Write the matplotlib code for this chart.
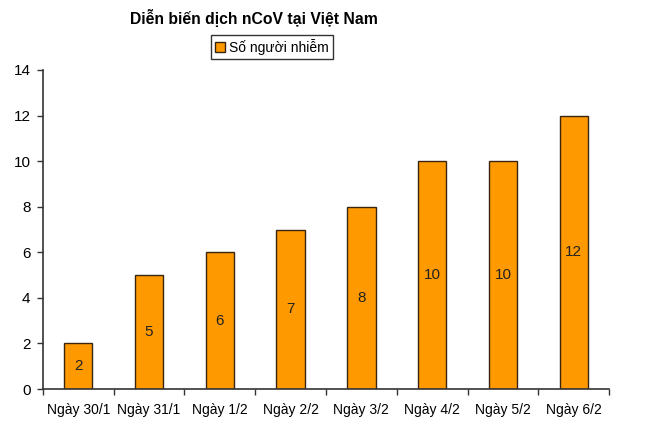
import matplotlib
matplotlib.use("Agg")
import matplotlib.pyplot as plt
import numpy as np

categories = ["Ngày 30/1", "Ngày 31/1", "Ngày 1/2", "Ngày 2/2", "Ngày 3/2", "Ngày 4/2", "Ngày 5/2", "Ngày 6/2"]
values = [2, 5, 6, 7, 8, 10, 10, 12]
title = "Diễn biến dịch nCoV tại Việt Nam"
series_name = "Số người nhiễm"
yticks = [0, 2, 4, 6, 8, 10, 12, 14]

plt.rcParams['font.family'] = ['Liberation Sans', 'DejaVu Sans']

fig = plt.figure(figsize=(6.6, 4.32), dpi=100)
ax = fig.add_axes([0.065, 0.0995, 0.858, 0.7385])

x = np.arange(len(categories))
bars = ax.bar(x, values, width=0.4, color="#FF9900", edgecolor="#3a2410", linewidth=1.0, label=series_name)
for xi, v in zip(x, values):
    ax.text(xi, v / 2, str(v), ha="center", va="center", fontsize=11, color="#222222")

ax.set_xlim(-0.5, len(categories) - 0.5)
ax.set_ylim(0, 14)
ax.set_yticks(yticks)
ax.set_xticks(x)
ax.set_xticklabels(categories, fontsize=10)
ax.set_xticks(np.arange(len(categories) + 1) - 0.5, minor=True)
ax.tick_params(axis="x", which="major", length=0, pad=10)
ax.tick_params(axis="x", which="minor", length=4, width=1, direction="out", color="#333333")
ax.tick_params(axis="y", length=4, width=1, direction="out", color="#333333", labelsize=11, pad=5)
for s in ["top", "right"]:
    ax.spines[s].set_visible(False)
for s in ["left", "bottom"]:
    ax.spines[s].set_color("#333333")
    ax.spines[s].set_linewidth(1.2)

fig.text(0.385, 0.958, title, ha="center", va="center", fontsize=11.3, fontweight="bold")
leg = fig.legend(handles=[bars], labels=[series_name], loc="center", bbox_to_anchor=(0.412, 0.891),
                 fontsize=10, frameon=True, fancybox=False, edgecolor="black", handlelength=0.7,
                 handleheight=0.7, handletextpad=0.3, borderpad=0.3, borderaxespad=0)
leg.get_frame().set_linewidth(1.0)

fig.savefig("out.png", dpi=100)
